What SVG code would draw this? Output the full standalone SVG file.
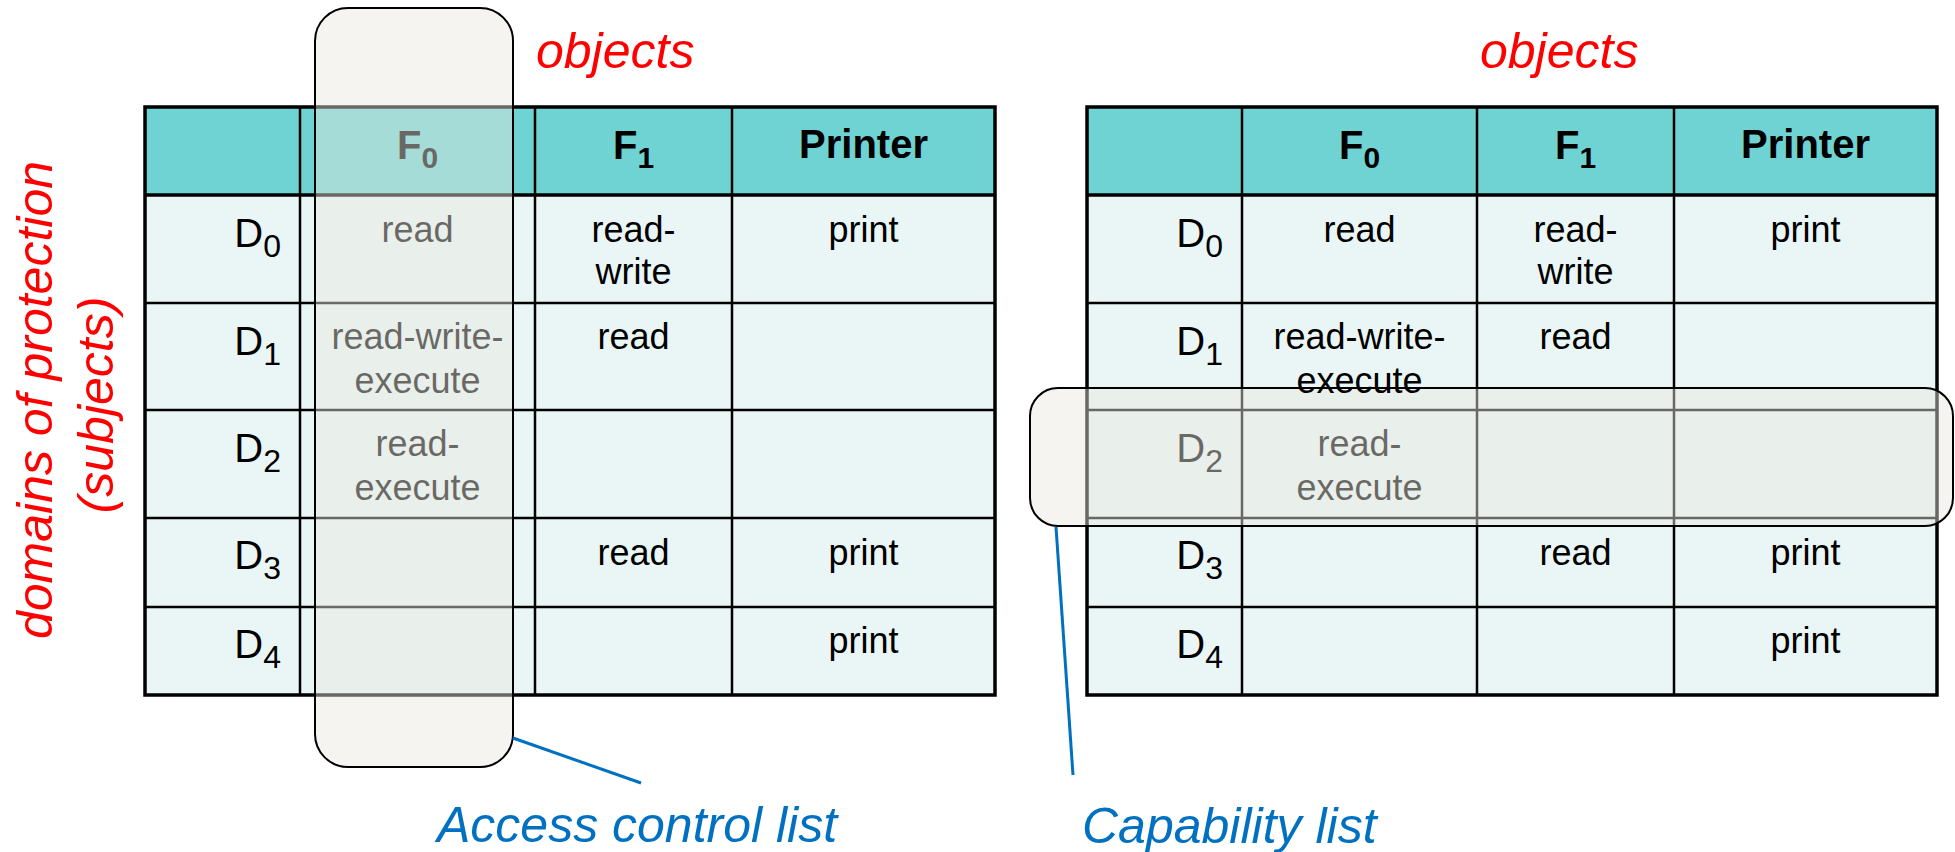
<svg xmlns="http://www.w3.org/2000/svg" width="1955" height="852" viewBox="0 0 1955 852">
<style>
.hdr{fill:#70D3D3}
.bdy{fill:#EAF6F6}
.grid{stroke:#000;stroke-width:2.5;fill:none}
.outer{stroke:#000;stroke-width:3.5;fill:none}
text{font-family:"Liberation Sans",Arial,sans-serif}
.cell{font-size:36px;text-anchor:middle;fill:#000}
.dlab{font-size:40px;text-anchor:end;fill:#000}
.sub{font-size:32px}
.head{font-size:40px;font-weight:bold;text-anchor:middle;fill:#000}
.hsub{font-size:30px}
.red{fill:#FF0000;font-style:italic;font-size:50px}
.blue{fill:#0070C0;font-style:italic;font-size:50px}
.ovl{fill:#E9E7DE;fill-opacity:0.45;stroke:#000;stroke-width:2}
.conn{stroke:#0070C0;stroke-width:3;fill:none}
</style>

<g id="label-objects-left"><text class="red" x="536" y="68">objects</text></g>
<g id="label-objects-right"><text class="red" x="1480" y="68">objects</text></g>
<g id="label-domains">
<text class="red" text-anchor="middle" transform="translate(52,400) rotate(-90)">domains of protection</text>
<text class="red" text-anchor="middle" transform="translate(113,405) rotate(-90)">(subjects)</text>
</g>

<g id="table-left">
<rect class="hdr" x="145" y="107" width="850" height="88"/>
<rect class="bdy" x="145" y="195" width="850" height="500"/>
<path class="grid" d="M300 107V695M535 107V695M732 107V695M145 303H995M145 410H995M145 518H995M145 607H995"/>
<path class="outer" d="M145 195H995"/>
<rect class="outer" x="145" y="107" width="850" height="588"/>
<text class="head" x="417.5" y="159">F<tspan class="hsub" dy="9">0</tspan></text>
<text class="head" x="633.5" y="159">F<tspan class="hsub" dy="9">1</tspan></text>
<text class="head" x="863.5" y="158">Printer</text>
<text class="dlab" x="281" y="247">D<tspan class="sub" dy="10">0</tspan></text>
<text class="dlab" x="281" y="355">D<tspan class="sub" dy="10">1</tspan></text>
<text class="dlab" x="281" y="462">D<tspan class="sub" dy="10">2</tspan></text>
<text class="dlab" x="281" y="569">D<tspan class="sub" dy="10">3</tspan></text>
<text class="dlab" x="281" y="658">D<tspan class="sub" dy="10">4</tspan></text>
<text class="cell" x="417.5" y="242">read</text>
<text class="cell" x="633.5" y="242">read-</text>
<text class="cell" x="633.5" y="284">write</text>
<text class="cell" x="863.5" y="242">print</text>
<text class="cell" x="417.5" y="349">read-write-</text>
<text class="cell" x="417.5" y="393">execute</text>
<text class="cell" x="633.5" y="349">read</text>
<text class="cell" x="417.5" y="456">read-</text>
<text class="cell" x="417.5" y="500">execute</text>
<text class="cell" x="633.5" y="565">read</text>
<text class="cell" x="863.5" y="565">print</text>
<text class="cell" x="863.5" y="653">print</text>
</g>

<g id="table-right">
<rect class="hdr" x="1087" y="107" width="850" height="88"/>
<rect class="bdy" x="1087" y="195" width="850" height="500"/>
<path class="grid" d="M1242 107V695M1477 107V695M1674 107V695M1087 303H1937M1087 410H1937M1087 518H1937M1087 607H1937"/>
<path class="outer" d="M1087 195H1937"/>
<rect class="outer" x="1087" y="107" width="850" height="588"/>
<text class="head" x="1359.5" y="159">F<tspan class="hsub" dy="9">0</tspan></text>
<text class="head" x="1575.5" y="159">F<tspan class="hsub" dy="9">1</tspan></text>
<text class="head" x="1805.5" y="158">Printer</text>
<text class="dlab" x="1223" y="247">D<tspan class="sub" dy="10">0</tspan></text>
<text class="dlab" x="1223" y="355">D<tspan class="sub" dy="10">1</tspan></text>
<text class="dlab" x="1223" y="462">D<tspan class="sub" dy="10">2</tspan></text>
<text class="dlab" x="1223" y="569">D<tspan class="sub" dy="10">3</tspan></text>
<text class="dlab" x="1223" y="658">D<tspan class="sub" dy="10">4</tspan></text>
<text class="cell" x="1359.5" y="242">read</text>
<text class="cell" x="1575.5" y="242">read-</text>
<text class="cell" x="1575.5" y="284">write</text>
<text class="cell" x="1805.5" y="242">print</text>
<text class="cell" x="1575.5" y="349">read</text>
<text class="cell" x="1359.5" y="456">read-</text>
<text class="cell" x="1359.5" y="500">execute</text>
<text class="cell" x="1575.5" y="565">read</text>
<text class="cell" x="1805.5" y="565">print</text>
<text class="cell" x="1805.5" y="653">print</text>
</g>

<g id="acl-highlight"><rect class="ovl" x="315" y="8" width="198" height="759" rx="33" ry="33"/></g>
<g id="capability-highlight"><rect class="ovl" x="1030" y="388" width="923" height="138" rx="28" ry="28"/></g>

<g id="table-right-d1-f0">
<text class="cell" x="1359.5" y="349">read-write-</text>
<text class="cell" x="1359.5" y="393">execute</text>
</g>

<g id="connectors">
<line class="conn" x1="513" y1="738" x2="641" y2="783"/>
<line class="conn" x1="1056" y1="527" x2="1073" y2="775"/>
</g>

<g id="label-acl"><text class="blue" x="437" y="842">Access control list</text></g>
<g id="label-capability"><text class="blue" x="1082" y="843">Capability list</text></g>
</svg>
